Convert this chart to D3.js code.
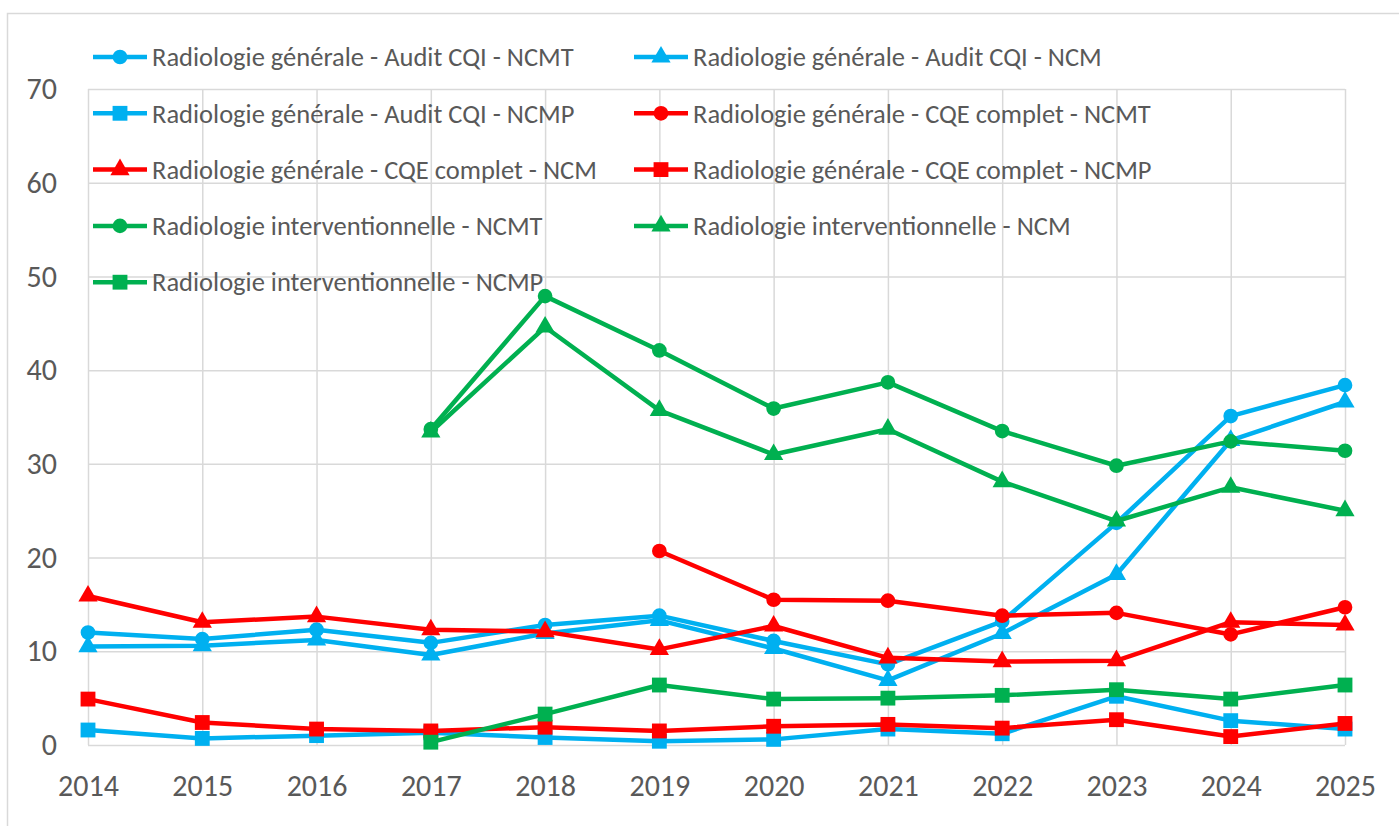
<!DOCTYPE html>
<html>
<head>
<meta charset="utf-8">
<script src="https://cdn.jsdelivr.net/npm/d3@7"></script>
<style>
  body { margin: 0; background: #fff; }
  text { font-family: 'Carlito', 'Liberation Sans Narrow', 'Open Sans', sans-serif; fill: #595959; }
</style>
</head>
<body>
<svg id="chart" width="1399" height="826"></svg>
<script>
var years = [ 2014, 2015, 2016, 2017, 2018, 2019, 2020, 2021, 2022, 2023, 2024, 2025 ];
var yTicks = [ 0, 10, 20, 30, 40, 50, 60, 70 ];

// null = no value that year
var auditNCMT = [ 12.0, 11.3, 12.3, 10.9, 12.8, 13.8, 11.1, 8.6, 13.2, 23.7, 35.1, 38.4 ];
var auditNCM  = [ 10.5, 10.6, 11.2, 9.6, 11.9, 13.3, 10.3, 6.9, 11.9, 18.2, 32.5, 36.6 ];
var auditNCMP = [ 1.6, 0.7, 1.0, 1.3, 0.8, 0.4, 0.6, 1.7, 1.2, 5.2, 2.6, 1.7 ];
var cqeNCMT   = [ null, null, null, null, null, 20.7, 15.5, 15.4, 13.8, 14.1, 11.8, 14.7 ];
var cqeNCM    = [ 15.9, 13.1, 13.7, 12.3, 12.1, 10.2, 12.7, 9.3, 8.9, 9.0, 13.1, 12.8 ];
var cqeNCMP   = [ 4.9, 2.4, 1.7, 1.5, 1.9, 1.5, 2.0, 2.2, 1.8, 2.7, 0.9, 2.3 ];
var intNCMT   = [ null, null, null, 33.7, 47.9, 42.1, 35.9, 38.7, 33.5, 29.8, 32.4, 31.4 ];
var intNCM    = [ null, null, null, 33.4, 44.6, 35.7, 31.0, 33.7, 28.1, 23.9, 27.5, 25.0 ];
var intNCMP   = [ null, null, null, 0.3, 3.3, 6.4, 4.9, 5.0, 5.3, 5.9, 4.9, 6.4 ];

var series = [
  { name: 'Radiologie générale - Audit CQI - NCMT', values: auditNCMT, color: '#00B0F0', shape: 'circle' },
  { name: 'Radiologie générale - Audit CQI - NCM', values: auditNCM, color: '#00B0F0', shape: 'triangle' },
  { name: 'Radiologie générale - Audit CQI - NCMP', values: auditNCMP, color: '#00B0F0', shape: 'square' },
  { name: 'Radiologie générale - CQE complet - NCMT', values: cqeNCMT, color: '#FF0000', shape: 'circle' },
  { name: 'Radiologie générale - CQE complet - NCM', values: cqeNCM, color: '#FF0000', shape: 'triangle' },
  { name: 'Radiologie générale - CQE complet - NCMP', values: cqeNCMP, color: '#FF0000', shape: 'square' },
  { name: 'Radiologie interventionnelle - NCMT', values: intNCMT, color: '#00B050', shape: 'circle' },
  { name: 'Radiologie interventionnelle - NCM', values: intNCM, color: '#00B050', shape: 'triangle' },
  { name: 'Radiologie interventionnelle - NCMP', values: intNCMP, color: '#00B050', shape: 'square' }
];

var svg = d3.select( '#chart' ),
  margin = { top: 89, right: 54, bottom: 81, left: 88 },
  width = +svg.attr( 'width' ),
  height = +svg.attr( 'height' );

var x = d3.scaleLinear()
  .domain( [ 2014, 2025 ] )
  .range( [ margin.left, width - margin.right ] );

var y = d3.scaleLinear()
  .domain( [ 0, 70 ] )
  .range( [ height - margin.bottom, margin.top ] );

var symbols = {
  circle: d3.symbol().type( d3.symbolCircle ).size( 170 ),
  triangle: d3.symbol().type( d3.symbolTriangle ).size( 160 ),
  square: d3.symbol().type( d3.symbolSquare ).size( 220 )
};

// outer frame
svg.append( 'rect' )
  .attr( 'x', 7.5 ).attr( 'y', 13.5 )
  .attr( 'width', width ).attr( 'height', height )
  .attr( 'fill', 'none' )
  .attr( 'stroke', '#d9d9d9' )
  .attr( 'stroke-width', 1.5 );

/* Grid */

svg.append( 'g' )
  .attr( 'class', 'y-grid' )
  .attr( 'transform', 'translate(' + margin.left + ',0)' )
  .call( d3.axisLeft( y ).tickValues( yTicks ).tickSize( -( width - margin.right - margin.left ) ).tickPadding( 31 ) )
  .call( g => g.select( '.domain' ).remove() )
  .call( g => g.selectAll( 'line' ).attr( 'stroke', '#d9d9d9' ).attr( 'stroke-width', 1.5 ) )
  .call( g => g.selectAll( 'text' ).style( 'font-size', '30px' ).attr( 'fill', '#595959' ) );

svg.append( 'g' )
  .attr( 'class', 'x-grid' )
  .attr( 'transform', 'translate(0,' + ( height - margin.bottom ) + ')' )
  .call( d3.axisBottom( x ).tickValues( years ).tickFormat( d3.format( 'd' ) )
    .tickSize( -( height - margin.bottom - margin.top ) ).tickPadding( 30 ) )
  .call( g => g.select( '.domain' ).remove() )
  .call( g => g.selectAll( 'line' ).attr( 'stroke', '#d9d9d9' ).attr( 'stroke-width', 1.5 ) )
  .call( g => g.selectAll( 'text' ).style( 'font-size', '30px' ).attr( 'fill', '#595959' ) );

/* Lines */

var line = d3.line()
  .defined( d => d.v !== null )
  .x( d => x( d.year ) )
  .y( d => y( d.v ) );

series.forEach( s => {
  var pts = years.map( ( yr, i ) => ( { year: yr, v: s.values[ i ] } ) );

  svg.append( 'path' )
    .datum( pts )
    .attr( 'fill', 'none' )
    .attr( 'stroke', s.color )
    .attr( 'stroke-width', 4.5 )
    .attr( 'stroke-linejoin', 'round' )
    .attr( 'd', line );

  svg.append( 'g' ).selectAll( 'path' )
    .data( pts.filter( d => d.v !== null ) )
    .enter().append( 'path' )
      .attr( 'transform', d => 'translate(' + x( d.year ) + ',' + y( d.v ) + ')' )
      .attr( 'd', symbols[ s.shape ] )
      .attr( 'fill', s.color );
} );

/* Legend */

var legend = svg.append( 'g' )
  .attr( 'class', 'legend' );

var items = legend.selectAll( 'g' )
  .data( series )
  .enter().append( 'g' )
    .attr( 'transform', ( d, i ) => 'translate(' + ( i % 2 === 0 ? 93 : 634 ) + ',' + ( 57 + Math.floor( i / 2 ) * 56.3 ) + ')' );

items.append( 'line' )
  .attr( 'x1', 0 ).attr( 'x2', 54 )
  .attr( 'stroke', d => d.color )
  .attr( 'stroke-width', 4.5 );

items.append( 'path' )
  .attr( 'transform', 'translate(27,0)' )
  .attr( 'd', d => symbols[ d.shape ]() )
  .attr( 'fill', d => d.color );

items.append( 'text' )
  .attr( 'x', 59 )
  .attr( 'dy', '0.35em' )
  .style( 'font-size', '26.5px' )
  .text( d => d.name );
</script>
</body>
</html>
